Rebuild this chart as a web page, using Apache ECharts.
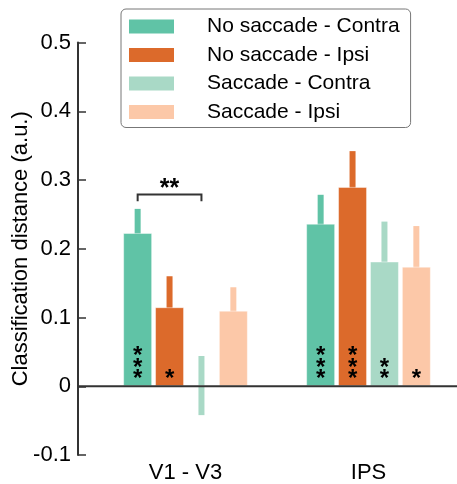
<!DOCTYPE html>
<html><head><meta charset="utf-8">
<script src="https://cdn.jsdelivr.net/npm/echarts@6/dist/echarts.min.js"></script>
<style>html,body{margin:0;padding:0;background:#fff}#c{width:457px;height:484px}</style>
</head><body><div id="c"></div>
<script>
// ---- data ----
const categories = ['V1 - V3', 'IPS'];
const seriesNames = ['No saccade - Contra', 'No saccade - Ipsi', 'Saccade - Contra', 'Saccade - Ipsi'];
const noSaccadeContra = [0.223, 0.2365];
const noSaccadeIpsi = [0.115, 0.290];
const saccadeContra = [0.001, 0.1815];
const saccadeIpsi = [0.110, 0.174];
const noSaccadeContraErr = [0.035, 0.042];
const noSaccadeIpsiErr = [0.045, 0.052];
const saccadeContraErr = [0.043, 0.058];
const saccadeIpsiErr = [0.034, 0.059];
const noSaccadeContraStars = ['***', '***'];
const noSaccadeIpsiStars = ['*', '***'];
const saccadeContraStars = ['', '**'];
const saccadeIpsiStars = ['', '*'];
const yTicks = { min: -0.1, max: 0.5, interval: 0.1 };
const bracketCategory = 0, bracketFromSeries = 0, bracketToSeries = 2, bracketValue = 0.279, bracketDrop = 0.01, bracketLabel = '**';

// ---- styling ----
const colors = ['#60c3a6', '#dc6a2b', '#a9d9c6', '#fcc8a8'];
const FONT = '"Liberation Sans", Arial, Helvetica, sans-serif';
const means = [noSaccadeContra, noSaccadeIpsi, saccadeContra, saccadeIpsi];
const errs = [noSaccadeContraErr, noSaccadeIpsiErr, saccadeContraErr, saccadeIpsiErr];
const stars = [noSaccadeContraStars, noSaccadeIpsiStars, saccadeContraStars, saccadeIpsiStars];
const BAR_W = 29, STEP = 31.9;

const chart = echarts.init(document.getElementById('c'), null, { renderer: 'canvas' });

const series = [];
means.forEach((m, i) => {
  series.push({
    name: seriesNames[i], type: 'bar', data: m, barWidth: BAR_W, barGap: '10%',
    itemStyle: { color: colors[i], borderColor: 'rgba(255,255,255,0.45)', borderWidth: 1 },
    z: 3
  });
});
means.forEach((m, i) => {
  series.push({
    type: 'custom', z: 2, silent: true, clip: false,
    data: m.map((v, k) => [k, v, errs[i][k]]),
    encode: { x: 0, y: 1 },
    renderItem: (params, api) => {
      const cat = api.value(0), v = api.value(1), e = api.value(2);
      const lo = api.coord([cat, v - e]), hi = api.coord([cat, v + e]);
      const x = lo[0] + (i - 1.5) * STEP;
      return { type: 'rect', shape: { x: x - 3, y: hi[1], width: 6, height: lo[1] - hi[1] }, style: { fill: colors[i] } };
    }
  });
});
// significance stars inside bars
means.forEach((m, i) => {
  series.push({
    type: 'custom', z: 5, silent: true, clip: false,
    data: m.map((v, k) => [k, 0, stars[i][k].length]),
    encode: { x: 0, y: 1 },
    renderItem: (params, api) => {
      const cat = api.value(0), n = api.value(2);
      const base = api.coord([cat, 0]);
      const x = base[0] + (i - 1.5) * STEP;
      const children = [];
      for (let k = 0; k < n; k++) {
        children.push({ type: 'text', style: { text: '*', x: x, y: base[1] - 7 - k * 11.2, align: 'center', verticalAlign: 'middle', font: 'bold 24px ' + FONT, fill: '#000' } });
      }
      return { type: 'group', children };
    }
  });
});
// bracket
series.push({
  type: 'custom', z: 5, silent: true, clip: false,
  data: [[bracketCategory, bracketValue, bracketDrop]],
  encode: { x: 0, y: 1 },
  renderItem: (params, api) => {
    const cat = api.value(0), v = api.value(1), d = api.value(2);
    const top = api.coord([cat, v]), bot = api.coord([cat, v - d]);
    const x1 = top[0] + (bracketFromSeries - 1.5) * STEP, x2 = top[0] + (bracketToSeries - 1.5) * STEP;
    return { type: 'group', children: [
      { type: 'polyline', shape: { points: [[x1, bot[1]], [x1, top[1]], [x2, top[1]], [x2, bot[1]]] }, style: { stroke: '#333', lineWidth: 2, fill: null } },
      { type: 'text', style: { text: bracketLabel, x: (x1 + x2) / 2, y: top[1] - 5, align: 'center', verticalAlign: 'middle', font: 'bold 25px ' + FONT, fill: '#000' } }
    ] };
  }
});

chart.setOption({
  animation: false,
  backgroundColor: '#fff',
  grid: { left: 94, right: -3, top: 42.5, bottom: 29, containLabel: false, outerBoundsMode: 'none' },
  legend: {
    data: seriesNames, orient: 'vertical', left: 121, top: 9, icon: 'rect',
    itemWidth: 45, itemHeight: 14, itemGap: 7.5,
    padding: [7, 11, 5, 8],
    borderColor: '#777', borderWidth: 1, borderRadius: 5,
    textStyle: { fontSize: 21, fontFamily: FONT, color: '#000', padding: [0, 0, 0, 28] },
    itemStyle: { borderWidth: 0 }
  },
  xAxis: {
    type: 'category', data: categories, position: 'bottom',
    axisLine: { show: false }, axisTick: { show: false },
    axisLabel: { fontSize: 22, fontFamily: FONT, color: '#000', margin: 7 }
  },
  yAxis: {
    type: 'value', min: yTicks.min, max: yTicks.max, interval: yTicks.interval, offset: 16,
    name: 'Classification distance (a.u.)', nameLocation: 'middle', nameGap: 46, nameMoveOverlap: false,
    nameTextStyle: { fontSize: 22, fontFamily: FONT, color: '#000' },
    axisLine: { show: true, onZero: false, lineStyle: { color: '#333', width: 2 } },
    axisTick: { show: true, inside: true, length: 8, lineStyle: { color: '#333', width: 1.5 } },
    axisLabel: { fontSize: 22, fontFamily: FONT, color: '#000', margin: 7 },
    splitLine: { show: false }
  },
  series
});
const y0 = chart.convertToPixel({ yAxisIndex: 0 }, 0);
chart.setOption({ graphic: [{ type: 'line', z: 10, silent: true, shape: { x1: 78, y1: y0, x2: 457, y2: y0 }, style: { stroke: '#333', lineWidth: 2 } }] });
</script></body></html>
